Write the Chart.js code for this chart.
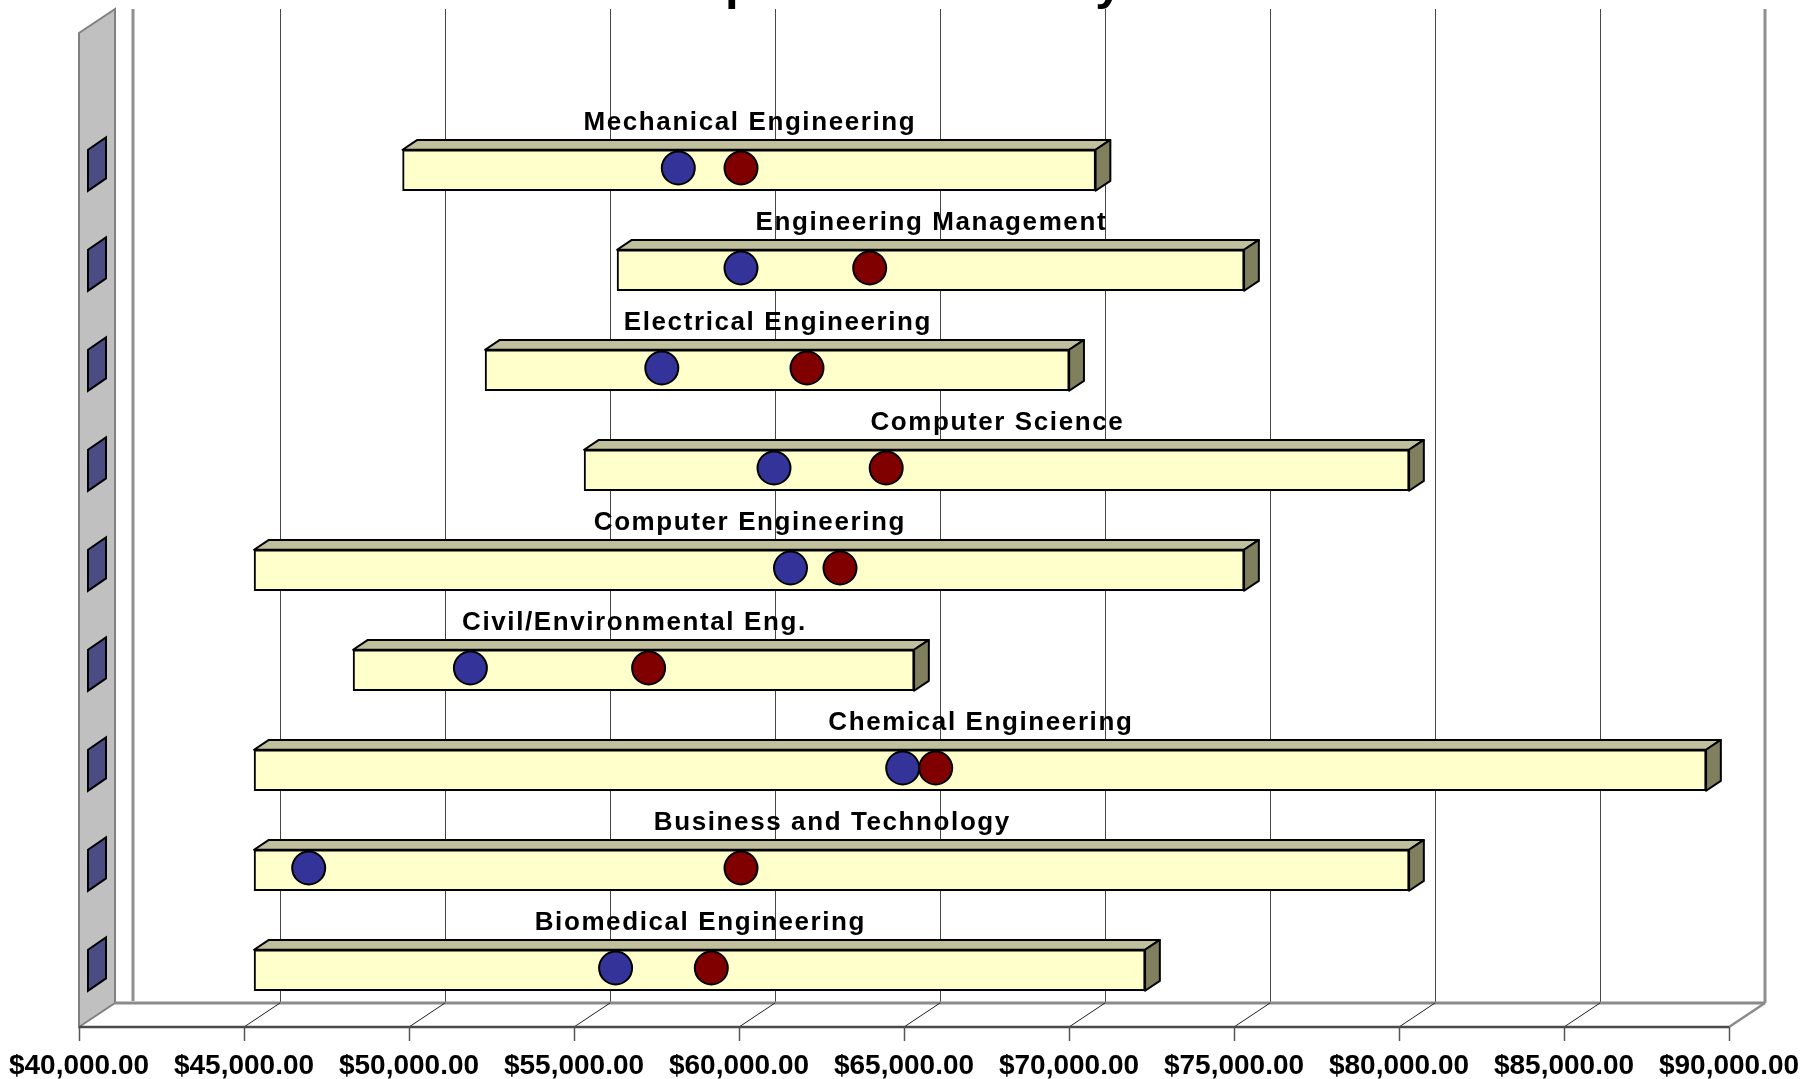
<!DOCTYPE html>
<html>
<head>
<meta charset="utf-8">
<script src="https://cdn.jsdelivr.net/npm/chart.js@4.4.1/dist/chart.umd.min.js"></script>
<style>
  html, body { margin: 0; padding: 0; background: #ffffff; }
  #wrap { width: 1820px; height: 1079px; }
</style>
</head>
<body>
<div id="wrap"><canvas id="chart" width="1820" height="1079"></canvas></div>
<script>
// Salary ranges by major (bottom row first)
const majors = [
  'Biomedical Engineering',
  'Business and Technology',
  'Chemical Engineering',
  'Civil/Environmental Eng.',
  'Computer Engineering',
  'Computer Science',
  'Electrical Engineering',
  'Engineering Management',
  'Mechanical Engineering'
];
const salaryLow  = [45000, 45000, 45000, 48000, 45000, 55000, 52000, 56000, 49500];
const salaryHigh = [72000, 80000, 89000, 65000, 75000, 80000, 69700, 75000, 70500];
const blueMarks  = [56200, 46900, 64900, 51800, 61500, 61000, 57600, 60000, 58100];
const redMarks   = [59100, 60000, 65900, 57200, 63000, 64400, 62000, 63900, 60000];

const axisMin = 40000, axisMax = 90000, axisStep = 5000;
const tickLabels = ['$40,000.00', '$45,000.00', '$50,000.00', '$55,000.00', '$60,000.00',
  '$65,000.00', '$70,000.00', '$75,000.00', '$80,000.00', '$85,000.00', '$90,000.00'];

// Oblique projection of the 3D box: full depth vector and the depths used
const DX = 36, DY = -24;
const BAR_FRONT = 0.28, BAR_BACK = 0.69;
const WALL_TOP = 9;
const FONT = '"Liberation Sans", Arial, Helvetica, sans-serif';

const rangeData = salaryLow.map((lo, i) => [lo, salaryHigh[i]]);
const blueData = blueMarks.map((v, i) => ({ x: v, y: majors[i] }));
const redData = redMarks.map((v, i) => ({ x: v, y: majors[i] }));

function poly(ctx, pts, fill, stroke, lw) {
  ctx.beginPath();
  ctx.moveTo(pts[0][0], pts[0][1]);
  for (let i = 1; i < pts.length; i++) ctx.lineTo(pts[i][0], pts[i][1]);
  ctx.closePath();
  if (fill) { ctx.fillStyle = fill; ctx.fill(); }
  if (stroke) { ctx.strokeStyle = stroke; ctx.lineWidth = lw; ctx.stroke(); }
}

function line(ctx, x1, y1, x2, y2, color, lw) {
  ctx.beginPath();
  ctx.moveTo(x1, y1);
  ctx.lineTo(x2, y2);
  ctx.strokeStyle = color;
  ctx.lineWidth = lw;
  ctx.stroke();
}

const boxPlugin = {
  id: 'box3d',
  beforeDatasetsDraw(chart) {
    const { ctx, chartArea: a, scales: { x } } = chart;
    const backY = a.bottom + DY;
    ctx.save();
    ctx.lineJoin = 'miter';

    // left side wall
    poly(ctx, [[a.left, a.bottom], [a.left, WALL_TOP - DY], [a.left + DX, WALL_TOP], [a.left + DX, backY]],
      '#C0C0C0', '#808080', 2);

    // gridlines on the back wall
    for (let v = axisMin + axisStep; v < axisMax; v += axisStep) {
      const px = Math.round(x.getPixelForValue(v) + DX) + 0.5;
      line(ctx, px, WALL_TOP, px, backY, '#474747', 1);
    }
    // back wall edges
    line(ctx, a.right + DX, WALL_TOP, a.right + DX, backY, '#909090', 3);
    line(ctx, a.left + DX + 18, WALL_TOP, a.left + DX + 18, backY - 2, '#909090', 3);

    // floor
    line(ctx, a.left + DX, backY, a.right + DX, backY, '#8a8a8a', 3);
    line(ctx, a.right, a.bottom, a.right + DX, backY, '#8a8a8a', 2.5);
    for (let v = axisMin + axisStep; v < axisMax; v += axisStep) {
      const px = x.getPixelForValue(v);
      line(ctx, px, a.bottom, px + DX, backY, '#202020', 1);
    }
    line(ctx, a.left, a.bottom, a.right, a.bottom, '#4a4a4a', 2.5);
    for (let v = axisMin; v <= axisMax; v += axisStep) {
      const px = Math.round(x.getPixelForValue(v)) + 0.5;
      line(ctx, px, a.bottom, px, a.bottom + 14, '#555555', 1.5);
    }

    // end faces of each row on the side wall
    const meta = chart.getDatasetMeta(2);
    meta.data.forEach(el => {
      const p = el.getProps(['y', 'height'], true);
      const t0 = 0.25, t1 = 0.75;
      const top = p.y - p.height / 2, bot = p.y + p.height / 2;
      const xl = a.left + DX * t0, xr = a.left + DX * t1;
      const yl = DY * BAR_FRONT, yr = DY * BAR_FRONT - 12.4;
      poly(ctx, [[xl, top + yl], [xr, top + yr], [xr, bot + yr], [xl, bot + yl]], '#4C4C84', '#000000', 2);
    });
    ctx.restore();
  },
  beforeDatasetDraw(chart, args) {
    const ctx = chart.ctx;
    ctx.save();
    if (args.meta.type === 'bar') {
      ctx.translate(DX * BAR_FRONT, DY * BAR_FRONT);
    } else {
      ctx.translate(2, -9);
    }
  },
  afterDatasetDraw(chart, args) {
    const ctx = chart.ctx;
    if (args.meta.type === 'bar') {
      const dx = DX * (BAR_BACK - BAR_FRONT), dy = DY * (BAR_BACK - BAR_FRONT);
      ctx.lineJoin = 'round';
      args.meta.data.forEach(el => {
        const p = el.getProps(['x', 'base', 'y', 'height'], true);
        const L = Math.min(p.x, p.base), R = Math.max(p.x, p.base);
        const T = p.y - p.height / 2, B = p.y + p.height / 2;
        poly(ctx, [[L, T], [L + dx, T + dy], [R + dx, T + dy], [R, T]], '#C0C09C', '#000000', 2);
        poly(ctx, [[R, T], [R + dx, T + dy], [R + dx, B + dy], [R, B]], '#80805F', '#000000', 2);
      });
    }
    ctx.restore();
  },
  afterDatasetsDraw(chart) {
    const ctx = chart.ctx;
    const meta = chart.getDatasetMeta(2);
    ctx.save();
    ctx.font = 'bold 26px ' + FONT;
    ctx.letterSpacing = '1.6px';
    ctx.fillStyle = '#000000';
    ctx.textAlign = 'center';
    ctx.textBaseline = 'alphabetic';
    meta.data.forEach((el, i) => {
      const p = el.getProps(['x', 'base', 'y'], true);
      const cx = (p.x + p.base) / 2 + DX * BAR_FRONT + 0.8;
      const by = p.y + DY * BAR_FRONT - 40;
      ctx.fillText(majors[i], cx, by);
    });
    ctx.restore();
  },
  afterDraw(chart) {
    // chart heading, set mostly above the top edge of the canvas
    const ctx = chart.ctx;
    ctx.save();
    ctx.font = 'bold 49px ' + FONT;
    ctx.fillStyle = '#000000';
    ctx.textAlign = 'left';
    ctx.textBaseline = 'alphabetic';
    ctx.fillText('Comparison of Salary', 616, -1);
    ctx.restore();
  }
};

new Chart(document.getElementById('chart'), {
  data: {
    labels: majors,
    datasets: [
      {
        type: 'line', label: 'blue', indexAxis: 'y', data: blueData, showLine: false,
        pointRadius: 16.5, pointHoverRadius: 16.5, pointBorderWidth: 2,
        pointBackgroundColor: '#333399', pointBorderColor: '#000000', order: 0, clip: false
      },
      {
        type: 'line', label: 'red', indexAxis: 'y', data: redData, showLine: false,
        pointRadius: 16.5, pointHoverRadius: 16.5, pointBorderWidth: 2,
        pointBackgroundColor: '#800000', pointBorderColor: '#000000', order: 0, clip: false
      },
      {
        type: 'bar', label: 'range', data: rangeData, barThickness: 41,
        backgroundColor: '#FFFFCC', borderColor: '#000000', borderWidth: 2,
        borderSkipped: false, order: 1, clip: false
      }
    ]
  },
  options: {
    responsive: false,
    animation: false,
    indexAxis: 'y',
    events: [],
    layout: { padding: { left: 79, right: 91, top: 127, bottom: 0 } },
    plugins: { legend: { display: false }, tooltip: { enabled: false }, title: { display: false } },
    scales: {
      x: {
        type: 'linear', min: axisMin, max: axisMax,
        ticks: {
          stepSize: axisStep, autoSkip: false, maxRotation: 0, padding: 22,
          color: '#000000', font: { family: FONT, size: 28, weight: 'bold' },
          callback: (v, i) => tickLabels[i]
        },
        grid: { display: false, drawTicks: false },
        border: { display: false },
        afterFit(scale) {
          scale.height = 52;
          scale.paddingLeft = 0;
          scale.paddingRight = 0;
        }
      },
      y: {
        type: 'category', labels: majors, reverse: true, display: false, offset: true,
        grid: { display: false }
      }
    }
  },
  plugins: [boxPlugin]
});
</script>
</body>
</html>
